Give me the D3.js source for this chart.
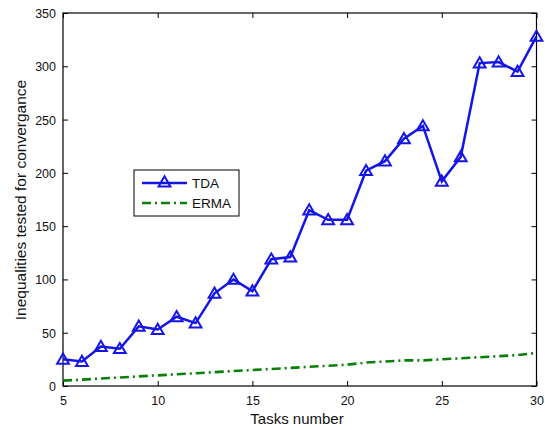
<!DOCTYPE html>
<html>
<head>
<meta charset="utf-8">
<script src="https://cdn.jsdelivr.net/npm/d3@7"></script>
<style>
html,body{margin:0;padding:0;background:#fff;}
svg text{font-family:"Liberation Sans",Arial,sans-serif;fill:#111;}
</style>
</head>
<body>
<svg id="chart" width="545" height="430"></svg>
<script>
const tasks = [5,6,7,8,9,10,11,12,13,14,15,16,17,18,19,20,21,22,23,24,25,26,27,28,29,30];
const tdaValues = [25,23,37,35,56,53,65,59,87,100,89,119,121,165,156,156,202,211,232,244,192,215,303,304,295,328];
const ermaValues = [5,6,7,8,9,10,11,12,13,14,15,16,17,18,19,20,22,23,24,24,25,26,27,28,29,31];
const xTicks = [5,10,15,20,25,30];
const yTicks = [0,50,100,150,200,250,300,350];
const seriesNames = ["TDA","ERMA"];

const svg = d3.select("#chart");
const L = 63, R = 536.5, T = 13, B = 386;
const x = d3.scaleLinear().domain([5,30]).range([L,R]);
const y = d3.scaleLinear().domain([0,350]).range([B,T]);

const tickLen = 5;
const gx = svg.append("g").attr("transform",`translate(0,${B})`)
  .call(d3.axisBottom(x).tickValues(xTicks).tickSizeInner(-tickLen).tickSizeOuter(0).tickPadding(12));
const gxt = svg.append("g").attr("transform",`translate(0,${T})`)
  .call(d3.axisTop(x).tickValues(xTicks).tickSizeInner(-tickLen).tickSizeOuter(0).tickFormat(""));
const gy = svg.append("g").attr("transform",`translate(${L},0)`)
  .call(d3.axisLeft(y).tickValues(yTicks).tickSizeInner(-tickLen).tickSizeOuter(0).tickPadding(12));
const gyr = svg.append("g").attr("transform",`translate(${R},0)`)
  .call(d3.axisRight(y).tickValues(yTicks).tickSizeInner(-tickLen).tickSizeOuter(0).tickFormat(""));
[gx,gxt,gy,gyr].forEach(g=>{
  g.select(".domain").remove();
  g.selectAll("line").attr("stroke","#000").attr("stroke-width",1);
});
gx.selectAll("text").attr("font-size","12.5px").attr("font-family","Liberation Sans, Arial, sans-serif").attr("fill","#222").attr("dy","0.55em");
gy.selectAll("text").attr("font-size","12.5px").attr("font-family","Liberation Sans, Arial, sans-serif").attr("fill","#222").attr("x",-7).attr("dy","0.36em");
svg.append("rect").attr("x",L).attr("y",T).attr("width",R-L).attr("height",B-T)
  .attr("fill","none").attr("stroke","#000").attr("stroke-width",1.2);

const line = d3.line().x((d,i)=>x(tasks[i])).y(d=>y(d));
svg.append("path").datum(ermaValues).attr("d",line)
  .attr("fill","none").attr("stroke","#0a800a").attr("stroke-width",2.6)
  .attr("stroke-dasharray","9,4,2,4");

svg.append("path").datum(tdaValues).attr("d",line)
  .attr("fill","none").attr("stroke","#1515e6").attr("stroke-width",2.5);

const tri = d3.symbol().type(d3.symbolTriangle).size(60);
svg.append("g").selectAll("path").data(tdaValues).join("path")
  .attr("d",tri)
  .attr("transform",(d,i)=>`translate(${x(tasks[i])},${y(d)+1})`)
  .attr("fill","none").attr("stroke","#1515e6").attr("stroke-width",2);

svg.append("text").attr("x",297).attr("y",424).attr("text-anchor","middle")
  .attr("font-size","15px").attr("fill","#222").text("Tasks number");
svg.append("text").attr("transform","translate(26,200) rotate(-90)").attr("text-anchor","middle")
  .attr("font-size","15.5px").attr("fill","#222").text("Inequalities tested for convergance");

const lg = svg.append("g");
lg.append("rect").attr("x",134).attr("y",170).attr("width",105).attr("height",46)
  .attr("fill","#fff").attr("stroke","#000").attr("stroke-width",1);
const rows = [183, 203];
lg.append("line").attr("x1",142).attr("x2",187).attr("y1",rows[0]).attr("y2",rows[0])
  .attr("stroke","#1515e6").attr("stroke-width",2.5);
lg.append("path").attr("d",tri).attr("transform",`translate(164.5,${rows[0]})`)
  .attr("fill","none").attr("stroke","#1515e6").attr("stroke-width",2);
lg.append("line").attr("x1",142).attr("x2",187).attr("y1",rows[1]).attr("y2",rows[1])
  .attr("stroke","#0a800a").attr("stroke-width",2.6).attr("stroke-dasharray","9,4,2,4");
lg.selectAll("text.lab").data(seriesNames).join("text").attr("class","lab")
  .attr("x",192).attr("y",(d,i)=>rows[i]).attr("dy","0.36em")
  .attr("font-size","13.5px").attr("fill","#222").text(d=>d);
</script>
</body>
</html>
